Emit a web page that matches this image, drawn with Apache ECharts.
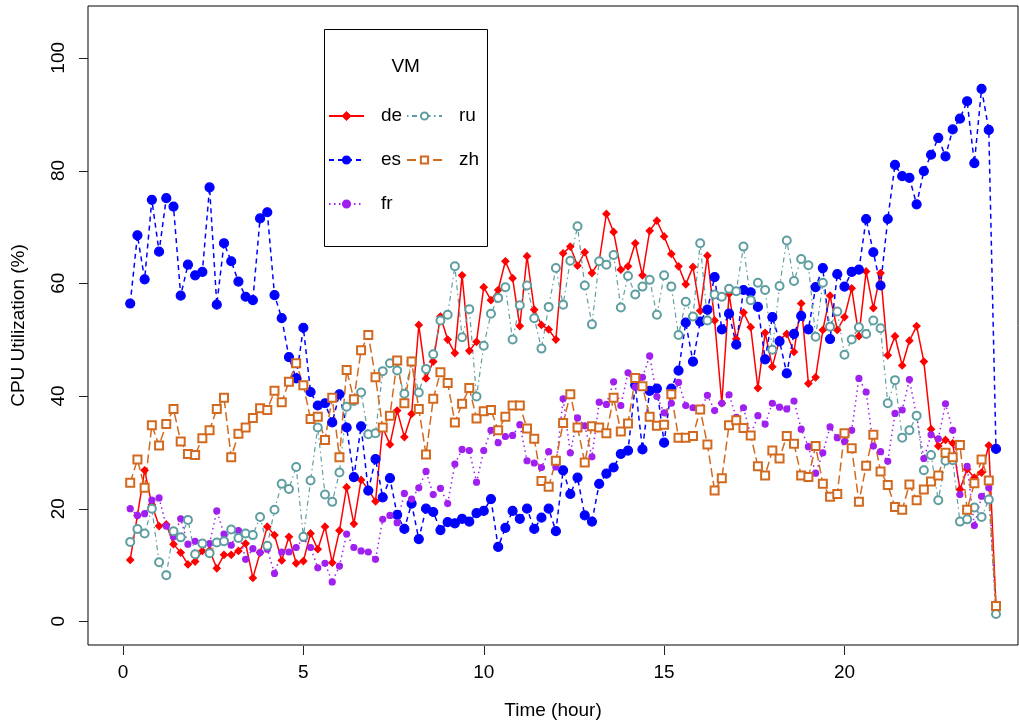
<!DOCTYPE html>
<html>
<head>
<meta charset="utf-8">
<title>CPU Utilization</title>
<script src="https://cdn.jsdelivr.net/npm/echarts@6/dist/echarts.min.js"></script>
<style>
  html, body { margin: 0; padding: 0; background: #fff; }
  #main { width: 1019px; height: 727px; }
</style>
</head>
<body>
<div id="main"></div>
<script>
// sample times (hour), one every 12 minutes
var hours = [
    0.2, 0.4, 0.6, 0.8, 1.0, 1.2, 1.4, 1.6, 1.8, 2.0,
    2.2, 2.4, 2.6, 2.8, 3.0, 3.2, 3.4, 3.6, 3.8, 4.0,
    4.2, 4.4, 4.6, 4.8, 5.0, 5.2, 5.4, 5.6, 5.8, 6.0,
    6.2, 6.4, 6.6, 6.8, 7.0, 7.2, 7.4, 7.6, 7.8, 8.0,
    8.2, 8.4, 8.6, 8.8, 9.0, 9.2, 9.4, 9.6, 9.8, 10.0,
    10.2, 10.4, 10.6, 10.8, 11.0, 11.2, 11.4, 11.6, 11.8, 12.0,
    12.2, 12.4, 12.6, 12.8, 13.0, 13.2, 13.4, 13.6, 13.8, 14.0,
    14.2, 14.4, 14.6, 14.8, 15.0, 15.2, 15.4, 15.6, 15.8, 16.0,
    16.2, 16.4, 16.6, 16.8, 17.0, 17.2, 17.4, 17.6, 17.8, 18.0,
    18.2, 18.4, 18.6, 18.8, 19.0, 19.2, 19.4, 19.6, 19.8, 20.0,
    20.2, 20.4, 20.6, 20.8, 21.0, 21.2, 21.4, 21.6, 21.8, 22.0,
    22.2, 22.4, 22.6, 22.8, 23.0, 23.2, 23.4, 23.6, 23.8, 24.0,
    24.2
];

// CPU utilization (%) per VM
var de = [
    10.9, 18.8, 26.8, 20.7, 16.9, 17.2, 13.7, 12.2, 10.1, 10.6, 12.5, 12.6, 9.4, 11.8, 11.8, 12.5, 13.8, 7.7, 12.2, 16.8,
    15.3, 10.8, 15.0, 10.3, 10.7, 15.6, 12.8, 16.8, 10.4, 16.1, 23.8, 17.3, 25.1, 23.4, 21.3, 34.4, 31.4, 37.4, 32.7, 36.8,
    52.6, 43.1, 46.1, 54.1, 50.0, 47.6, 61.4, 48.0, 49.6, 59.3, 57.0, 58.8, 63.9, 60.9, 52.4, 64.8, 55.3, 52.6, 51.8, 50.0,
    65.3, 66.5, 63.1, 65.5, 61.8, 63.9, 72.3, 69.1, 62.4, 63.0, 67.1, 61.4, 69.3, 71.1, 68.3, 65.2, 63.0, 59.8, 62.9, 55.1,
    64.9, 53.4, 38.7, 58.1, 50.1, 54.8, 52.2, 41.4, 51.2, 45.2, 50.0, 51.0, 47.8, 56.4, 42.2, 43.3, 51.7, 57.8, 51.7, 54.0,
    59.1, 50.6, 62.1, 55.6, 61.8, 47.2, 50.6, 45.4, 49.8, 52.4, 46.1, 34.1, 31.1, 32.2, 31.6, 23.4, 27.0, 25.5, 26.4, 31.2,
    2.7
];
var es = [
    56.4, 68.5, 60.7, 74.8, 65.6, 75.1, 73.6, 57.8, 63.3, 61.4, 62.0, 77.0, 56.2, 67.1, 63.9, 60.3, 57.6, 57.0, 71.5, 72.6,
    57.9, 53.8, 46.9, 43.1, 52.1, 40.7, 38.3, 38.7, 35.3, 40.3, 34.4, 25.6, 34.6, 23.2, 28.8, 22.0, 25.4, 18.9, 16.4, 20.9,
    14.6, 20.0, 19.4, 16.2, 17.6, 17.4, 18.2, 17.7, 19.2, 19.6, 21.7, 13.2, 16.6, 19.6, 18.2, 20.0, 16.4, 18.4, 20.0, 16.0,
    26.8, 22.6, 25.5, 18.8, 17.7, 24.4, 26.2, 27.3, 29.7, 30.3, 41.9, 30.5, 40.9, 41.3, 31.7, 41.3, 44.5, 53.0, 46.1, 53.2,
    55.3, 61.1, 51.8, 54.6, 49.1, 58.8, 58.4, 55.8, 46.5, 54.0, 49.7, 44.0, 51.0, 54.2, 51.8, 59.3, 62.7, 50.1, 61.6, 59.4,
    62.0, 62.4, 71.4, 65.5, 59.6, 71.4, 81.0, 79.0, 78.7, 74.0, 79.9, 82.8, 85.8, 82.5, 87.3, 89.2, 92.3, 81.3, 94.5, 87.2,
    30.6
];
var fr = [
    20.0, 18.8, 19.1, 21.5, 21.9, 16.9, 15.0, 18.2, 13.7, 14.2, 13.8, 13.8, 19.6, 15.5, 13.5, 16.1, 11.0, 12.9, 12.2, 12.8,
    8.5, 12.3, 12.3, 13.1, 14.7, 13.1, 9.5, 10.3, 7.0, 9.8, 15.5, 13.1, 12.5, 12.3, 11.0, 18.1, 18.8, 17.5, 22.7, 21.7,
    23.7, 26.6, 22.5, 23.6, 20.9, 27.9, 30.5, 30.3, 24.7, 30.3, 33.9, 31.7, 32.8, 33.0, 34.9, 28.5, 28.1, 27.3, 30.1, 27.4,
    39.5, 29.9, 36.1, 34.7, 29.2, 38.9, 38.5, 42.5, 38.3, 44.1, 41.6, 43.3, 47.1, 39.9, 37.0, 38.7, 42.4, 38.3, 37.9, 37.5,
    40.1, 37.4, 38.7, 40.2, 36.2, 37.9, 33.1, 36.5, 35.0, 38.7, 38.0, 37.7, 39.1, 34.1, 31.0, 26.3, 29.9, 34.5, 32.6, 31.9,
    33.9, 43.1, 40.7, 31.1, 30.1, 28.4, 36.9, 37.5, 42.9, 36.4, 28.9, 33.1, 32.4, 38.6, 33.9, 22.5, 27.5, 17.0, 22.2, 23.7,
    1.3
];
var ru = [
    14.1, 16.4, 15.6, 20.0, 10.5, 8.2, 16.0, 14.9, 18.0, 11.9, 13.8, 12.1, 14.0, 14.2, 16.3, 14.8, 15.6, 15.3, 18.5, 13.4,
    19.8, 24.4, 23.5, 27.4, 15.0, 25.0, 34.4, 22.5, 21.2, 26.4, 38.1, 39.1, 40.6, 33.2, 33.4, 44.4, 45.8, 44.5, 40.4, 46.1,
    40.6, 44.8, 47.4, 53.4, 54.4, 63.0, 50.4, 55.4, 39.9, 48.9, 54.6, 57.4, 59.3, 50.0, 56.1, 59.6, 53.8, 48.4, 55.8, 62.7,
    56.2, 64.0, 70.1, 59.6, 52.7, 63.9, 63.3, 65.0, 55.7, 61.3, 58.0, 59.4, 60.6, 54.4, 61.4, 59.4, 50.8, 56.7, 54.1, 67.1,
    53.4, 58.0, 57.6, 59.0, 58.6, 66.5, 57.0, 60.1, 58.8, 48.2, 59.5, 67.6, 60.4, 64.3, 63.2, 50.5, 60.1, 52.3, 55.0, 47.3,
    50.0, 52.2, 51.0, 53.4, 52.0, 38.7, 42.8, 32.6, 33.9, 36.5, 26.8, 29.5, 21.5, 28.5, 28.6, 17.7, 18.1, 20.2, 18.5, 21.6,
    1.3
];
var zh = [
    24.6, 28.7, 23.7, 34.8, 31.2, 35.0, 37.7, 31.9, 29.7, 29.5, 32.5, 33.9, 37.7, 39.7, 29.1, 33.3, 34.4, 36.1, 37.8, 37.5,
    40.9, 38.9, 42.5, 45.8, 41.9, 35.9, 36.3, 32.2, 39.7, 29.1, 44.6, 39.4, 48.1, 50.8, 43.3, 34.4, 36.5, 46.3, 38.7, 46.1,
    37.7, 29.6, 39.5, 44.2, 42.3, 35.3, 38.6, 41.4, 36.0, 37.3, 37.5, 33.9, 36.3, 38.3, 38.3, 34.2, 32.4, 24.9, 23.9, 28.5,
    35.2, 40.3, 34.4, 28.2, 34.6, 34.4, 33.4, 39.7, 33.7, 35.1, 43.2, 41.7, 36.3, 34.7, 34.9, 40.3, 32.6, 32.6, 32.9, 37.6,
    31.4, 23.2, 25.4, 34.8, 35.7, 34.3, 33.0, 27.5, 25.9, 30.3, 28.9, 32.9, 31.5, 25.9, 25.6, 31.1, 24.4, 22.1, 22.6, 33.4,
    30.7, 21.2, 27.6, 33.1, 26.6, 24.2, 20.3, 19.8, 24.3, 21.5, 23.4, 24.8, 25.9, 29.9, 29.1, 31.3, 19.8, 24.5, 28.7, 25.0,
    2.7
];

var xTicks = [0, 5, 10, 15, 20];
var yTicks = [0, 20, 40, 60, 80, 100];

// axis ranges (R style: data range plus 4%)
var xMin = -0.97, xMax = 24.81;
var yMin = -4.2, yMax = 109.2;

var FONT = '"Liberation Sans", Arial, Helvetica, sans-serif';
var W = 1019, H = 727;
var plot = { left: 88, top: 6, right: 1, bottom: 82 };
var TICK_LEN = 9;

function pairs(vals) {
    var out = [];
    for (var k = 0; k < vals.length; k++) {
        out.push([hours[k], vals[k]]);
    }
    return out;
}

function makeSeries(name, vals, color, symbol, size, dash, width) {
    return {
        name: name,
        type: 'line',
        data: pairs(vals),
        symbol: symbol,
        symbolSize: size,
        showSymbol: true,
        lineStyle: { color: color, width: width, type: dash },
        itemStyle: { color: color, borderColor: color, borderWidth: 1.2 },
        emphasis: { disabled: true },
        animation: false
    };
}

// same linear mapping the axes use (grid box + min/max)
function xPix(v) {
    return plot.left + (v - xMin) / (xMax - xMin) * (W - plot.left - plot.right);
}
function yPix(v) {
    return plot.top + (yMax - v) / (yMax - yMin) * (H - plot.top - plot.bottom);
}

// tick marks outside the box, as thin filled rects
var ticks = [];
var boxBottom = H - plot.bottom;
xTicks.forEach(function (v) {
    ticks.push({
        type: 'rect', silent: true, z: 100,
        shape: { x: Math.round(xPix(v)), y: boxBottom + 1, width: 1, height: TICK_LEN },
        style: { fill: '#222' }
    });
});
yTicks.forEach(function (v) {
    ticks.push({
        type: 'rect', silent: true, z: 100,
        shape: { x: plot.left - TICK_LEN, y: Math.round(yPix(v)), width: TICK_LEN, height: 1 },
        style: { fill: '#222' }
    });
});

var myChart = echarts.init(document.getElementById('main'), null, { renderer: 'canvas' });

var axisText = { fontSize: 19, color: '#000', fontFamily: FONT };
var legendText = { fontSize: 19, color: '#000', lineHeight: 20, padding: [0, 0, 0, 12], fontFamily: FONT };

var option = {
    backgroundColor: '#fff',
    textStyle: { fontFamily: FONT },
    animation: false,
    grid: {
        left: plot.left, top: plot.top, right: plot.right, bottom: plot.bottom,
        show: true, borderColor: '#000', borderWidth: 1,
        backgroundColor: 'transparent'
    },
    xAxis: {
        type: 'value', min: xMin, max: xMax,
        axisLine: { show: false, onZero: false },
        axisTick: { show: false },
        splitLine: { show: false },
        axisLabel: { customValues: xTicks, fontSize: 19, color: '#000', margin: 18, fontFamily: FONT },
        name: 'Time (hour)', nameLocation: 'middle', nameGap: 56, nameTextStyle: axisText
    },
    yAxis: {
        type: 'value', min: yMin, max: yMax,
        axisLine: { show: false, onZero: false },
        axisTick: { show: false },
        splitLine: { show: false },
        axisLabel: { customValues: yTicks, rotate: 90, fontSize: 19, color: '#000', margin: 20, fontFamily: FONT },
        name: 'CPU Utilization (%)', nameLocation: 'middle', nameGap: 60, nameTextStyle: axisText
    },
    legend: [
        {
            data: ['de', 'es', 'fr'],
            orient: 'vertical',
            left: 323, top: 101,
            itemWidth: 35, itemHeight: 9, itemGap: 24,
            selectedMode: false,
            textStyle: legendText
        },
        {
            data: ['ru', 'zh'],
            orient: 'vertical',
            left: 401, top: 101,
            itemWidth: 35, itemHeight: 9, itemGap: 24,
            selectedMode: false,
            textStyle: legendText
        }
    ],
    graphic: [
        {
            type: 'rect',
            shape: { x: 324.5, y: 29.5, width: 163, height: 217 },
            style: { fill: 'transparent', stroke: '#000', lineWidth: 1 },
            silent: true
        },
        {
            type: 'text',
            x: 405.7, y: 67,
            style: { text: 'VM', fontSize: 19, fill: '#000', align: 'center', verticalAlign: 'middle', fontFamily: FONT },
            silent: true
        }
    ].concat(ticks),
    series: [
        makeSeries('de', de, '#FF0000', 'diamond', 7, 'solid', 1.5),
        makeSeries('es', es, '#0000FF', 'circle', 9, [5, 4], 1.5),
        makeSeries('fr', fr, '#A020F0', 'circle', 6, [1.5, 3.5], 1.5),
        makeSeries('ru', ru, '#5F9EA0', 'emptyCircle', 8, [1.5, 3.5, 5, 3.5], 1.2),
        makeSeries('zh', zh, '#D2691E', 'emptyRect', 8, [9, 4], 1.5)
    ]
};

myChart.setOption(option);
</script>
</body>
</html>
